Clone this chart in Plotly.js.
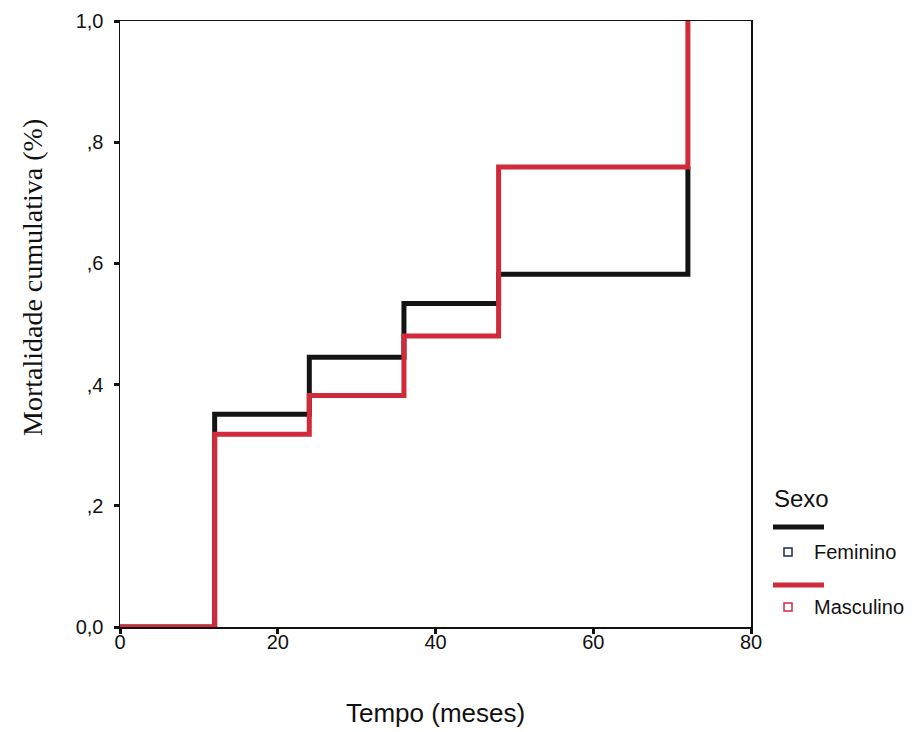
<!DOCTYPE html>
<html>
<head>
<meta charset="utf-8">
<script src="https://cdn.plot.ly/plotly-3.0.1.min.js"></script>
<style>html,body{margin:0;padding:0;background:#fff;}#chart{width:912px;height:732px;}</style>
</head>
<body>
<div id="chart"></div>
<script>
// Data
const tempo = [0, 12, 24, 36, 48, 72];
const feminino = [0, 0.351, 0.445, 0.534, 0.582, 0.760];
const masculino = [0, 0.318, 0.382, 0.480, 0.759, 1.0];
const seriesNames = ["Feminino", "Masculino"];
const legendTitle = "Sexo";
const xTickVals = [0, 20, 40, 60, 80];
const xTickText = ["0", "20", "40", "60", "80"];
const yTickVals = [0, 0.2, 0.4, 0.6, 0.8, 1.0];
const yTickText = ["0,0", ",2", ",4", ",6", ",8", "1,0"];
const xTitle = "Tempo (meses)";
const yTitle = "Mortalidade cumulativa (%)";

const colors = ["#141414", "#d12a3b"];
const markerColors = ["#1f2a55", "#d12a3b"];

const traces = [
  {x: tempo, y: feminino, name: seriesNames[0], mode: "lines", line: {shape: "hv", color: colors[0], width: 5}, cliponaxis: false, showlegend: false},
  {x: tempo, y: masculino, name: seriesNames[1], mode: "lines", line: {shape: "hv", color: colors[1], width: 5}, cliponaxis: false, showlegend: false}
];

const W = 631, H = 606; // plot area in px
function px(dx) { return dx / W; }
function py(dy) { return dy / H; }

const lineY = [py(100), py(42)];
const markY = [py(75), py(20)];
const shapes = [];
const annotations = [];
for (let i = 0; i < 2; i++) {
  shapes.push({type: "line", xref: "paper", yref: "paper", x0: px(653), x1: px(704), y0: lineY[i], y1: lineY[i], line: {color: colors[i], width: 5}});
  shapes.push({type: "rect", xref: "paper", yref: "paper", x0: px(668) - px(4), x1: px(668) + px(4), y0: markY[i] - py(4), y1: markY[i] + py(4), line: {color: markerColors[i], width: 1.5}, fillcolor: "rgba(0,0,0,0)"});
  annotations.push({text: seriesNames[i], xref: "paper", yref: "paper", x: px(692), y: markY[i], xanchor: "left", yanchor: "middle", showarrow: false, font: {family: "Liberation Sans, Arial, sans-serif", size: 20, color: "#111"}});
}
annotations.push({text: legendTitle, xref: "paper", yref: "paper", x: px(652), y: py(129), xanchor: "left", yanchor: "middle", showarrow: false, font: {family: "Liberation Sans, Arial, sans-serif", size: 24, color: "#111"}});
annotations.push({text: yTitle, xref: "paper", yref: "paper", x: px(-88), y: py(349), xanchor: "center", yanchor: "middle", textangle: -90, showarrow: false, font: {family: "Liberation Serif, Times New Roman, serif", size: 28, color: "#111"}});
annotations.push({text: xTitle, xref: "paper", yref: "paper", x: 0.5, y: py(-86), xanchor: "center", yanchor: "middle", showarrow: false, font: {family: "Liberation Sans, Arial, sans-serif", size: 26, color: "#111"}});

const axisCommon = {
  showgrid: false, zeroline: false, showline: true, linecolor: "#111", linewidth: 1.5, mirror: true,
  ticks: "outside", ticklen: 5, tickwidth: 3, tickcolor: "#111",
  tickfont: {family: "Liberation Sans, Arial, sans-serif", size: 20, color: "#111"}
};

const layout = {
  width: 912, height: 732,
  margin: {l: 120, r: 161, t: 21, b: 105, pad: 0},
  paper_bgcolor: "#fff", plot_bgcolor: "#fff",
  showlegend: false,
  xaxis: Object.assign({}, axisCommon, {range: [0, 80], tickmode: "array", tickvals: xTickVals, ticktext: xTickText, ticklabelstandoff: -9}),
  yaxis: Object.assign({}, axisCommon, {range: [0, 1], tickmode: "array", tickvals: yTickVals, ticktext: yTickText, ticklabelstandoff: 6}),
  shapes: shapes,
  annotations: annotations
};

Plotly.newPlot("chart", traces, layout, {displayModeBar: false, staticPlot: true});
</script>
</body>
</html>
